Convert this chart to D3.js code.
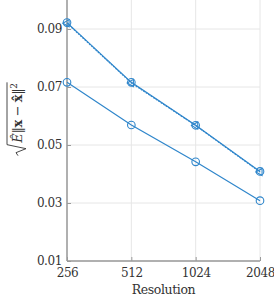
<!DOCTYPE html>
<html>
  <head>
    <meta charset="UTF-8" />
    <style>
      body { margin: 0; background: #fff; }
      svg text { font-family: "DejaVu Serif", serif !important; letter-spacing: -0.4px; }
    </style>
  </head>
  <body>
    <script src="https://cdn.jsdelivr.net/npm/d3@7/dist/d3.min.js"></script>
    <script>
      var resolutions = [256, 512, 1024, 2048];
      var yTicks = [0.01, 0.03, 0.05, 0.07, 0.09];
      var upperCircle = [0.0922, 0.0716, 0.0568, 0.0409];
      var upperTriangle = [0.0920, 0.0714, 0.0567, 0.0407];
      var lower = [0.0716, 0.0569, 0.0442, 0.0308];

      var blue = "#2f86cb";
      var W = 274, H = 299;
      var mLeft = 67, mRight = 260, mTop = 0, mBottom = 261;

      var svg = d3.select("body").append("svg")
        .attr("width", W).attr("height", H);

      var x = d3.scaleLog().base(2).domain([256, 2048]).range([mLeft, mRight]);
      var y = d3.scaleLinear().domain([0.01, 0.1]).range([mBottom, mTop]);

      // grid
      var grid = svg.append("g").attr("stroke", "#e6e6e6").attr("stroke-width", 1);
      grid.selectAll(".gx").data(resolutions).enter().append("line")
        .attr("x1", function(d) { return x(d); }).attr("x2", function(d) { return x(d); })
        .attr("y1", mTop).attr("y2", mBottom);
      grid.selectAll(".gy").data(yTicks).enter().append("line")
        .attr("x1", mLeft).attr("x2", mRight)
        .attr("y1", function(d) { return y(d); }).attr("y2", function(d) { return y(d); });

      // axes
      var xAxis = d3.axisBottom(x).tickValues(resolutions).tickSize(-4).tickPadding(7)
        .tickFormat(d3.format("d"));
      var yAxis = d3.axisLeft(y).tickValues(yTicks).tickSize(-4).tickPadding(5)
        .tickFormat(d3.format(".2f"));

      var gx = svg.append("g").attr("transform", "translate(0," + mBottom + ")").call(xAxis);
      var gy = svg.append("g").attr("transform", "translate(" + mLeft + ",0)").call(yAxis);
      [gx, gy].forEach(function(g) {
        g.attr("font-family", null);
        g.select(".domain").attr("stroke", "#9a9a9a").attr("stroke-width", 1.5);
        g.selectAll(".tick line").attr("stroke", "#9a9a9a");
        g.selectAll(".tick text").attr("fill", "#333").style("font-size", "12px");
      });
      gx.select(".domain").attr("d", "M" + mLeft + ",0H" + mRight);
      gy.select(".domain").attr("d", "M0," + mTop + "V" + mBottom);

      // series
      var line = d3.line()
        .x(function(d, i) { return x(resolutions[i]); })
        .y(function(d) { return y(d); });

      function drawLine(vals, dash) {
        svg.append("path").datum(vals).attr("d", line)
          .attr("fill", "none").attr("stroke", blue).attr("stroke-width", 1.2)
          .attr("stroke-dasharray", dash || null);
      }
      function drawCircles(vals) {
        svg.append("g").selectAll("circle").data(vals).enter().append("circle")
          .attr("cx", function(d, i) { return x(resolutions[i]); })
          .attr("cy", function(d) { return y(d); })
          .attr("r", 3.8).attr("fill", "none").attr("stroke", blue).attr("stroke-width", 1.1);
      }
      function drawTriangles(vals) {
        svg.append("g").selectAll("path").data(vals).enter().append("path")
          .attr("d", d3.symbol().type(d3.symbolTriangle).size(22))
          .attr("transform", function(d, i) {
            return "translate(" + x(resolutions[i]) + "," + y(d) + ") rotate(-90)";
          })
          .attr("fill", "none").attr("stroke", blue).attr("stroke-width", 1.1);
      }

      drawLine(upperTriangle, "2,1");
      drawLine(upperCircle);
      drawLine(lower);
      drawTriangles(upperTriangle);
      drawCircles(upperCircle);
      drawCircles(lower);

      // x label
      svg.append("text").attr("x", (mLeft + mRight) / 2).attr("y", 294)
        .attr("text-anchor", "middle").style("font-size", "12.5px").attr("fill", "#333")
        .text("Resolution");

      // y label: sqrt(Ê ||x − x̂||²)
      var yl = svg.append("g").attr("transform", "translate(22,113) rotate(-90)");
      var lab = yl.append("text").attr("text-anchor", "middle").attr("y", 0)
        .style("font-size", "13px").attr("fill", "#333");
      lab.append("tspan").style("font-style", "italic").text("Ê");
      lab.append("tspan").text("\u2016");
      lab.append("tspan").style("font-weight", "bold").text("x");
      lab.append("tspan").text(" \u2212 ");
      lab.append("tspan").style("font-weight", "bold").text("x\u0302");
      lab.append("tspan").text("\u2016");
      lab.append("tspan").attr("dy", -5).style("font-size", "9px").text("2");
      var bb = lab.node().getBBox();
      yl.append("path")
        .attr("d", "M" + (bb.x - 12) + ",-4 L" + (bb.x - 9) + ",-6 L" + (bb.x - 5) + ",4 L" + (bb.x - 1) + ",-15 L" + (bb.x + bb.width + 1) + ",-15")
        .attr("fill", "none").attr("stroke", "#333").attr("stroke-width", 0.9);
    </script>
  </body>
</html>
